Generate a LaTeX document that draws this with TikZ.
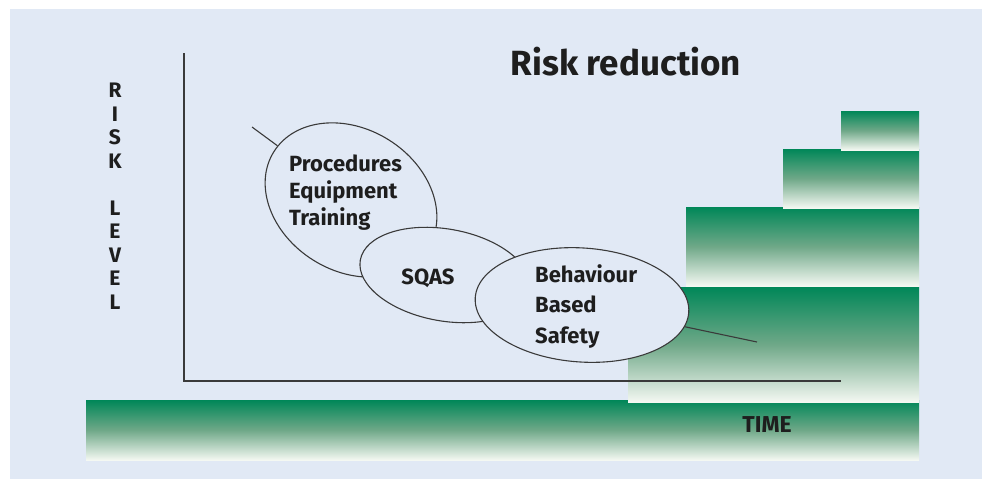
\documentclass[tikz,border=0pt]{standalone}
\usepackage{fontspec}
\setmainfont{Fira Sans}
\usetikzlibrary{shapes.geometric}
\definecolor{panel}{HTML}{E1E9F5}
\definecolor{gtop}{HTML}{008758}
\definecolor{gmid}{HTML}{6FA888}
\definecolor{gbot}{HTML}{F4F8F2}
\definecolor{ink}{HTML}{1E1E1E}
\definecolor{rule}{HTML}{3A3A3A}
\begin{document}
\begin{tikzpicture}[x=1pt,y=-1pt,
  band/.style={top color=gtop, bottom color=gbot, middle color=gmid},
  axisline/.style={draw=rule, line width=1.8pt},
  bubble/.style={ellipse, draw=rule, line width=1.1pt, fill=panel, inner sep=0pt},
  tail/.style={draw=rule, line width=1.1pt},
  lbl/.style={text=ink, inner sep=0pt, font=\bfseries\fontsize{22}{27}\selectfont},
  lblB/.style={text=ink, inner sep=0pt, font=\bfseries\fontsize{22}{30.5}\selectfont}]
\useasboundingbox (0,0) rectangle (982,479);
% background panel
\fill[panel] (10,9) rectangle (982,479);

% green bands: base strip and the rising steps
\shade[band] (86,400) rectangle (919,460);
\shade[band] (628,287) rectangle (919,402);
\shade[band] (686,207) rectangle (919,286);
\shade[band] (783,149) rectangle (919,208);
\shade[band] (841,111) rectangle (919,150);

% axes
\coordinate (ytop) at (184,53);
\coordinate (origin) at (184,381);
\coordinate (xend) at (841,381);
\draw[axisline] (ytop) -- (origin) -- (xend);

% risk-reduction bubbles
\node[bubble, minimum width=182, minimum height=142, rotate=-32] (proc) at (351,200) {};
\node[bubble, minimum width=172, minimum height=92, rotate=-10] (sqas) at (445,275) {};
\node[bubble, minimum width=214, minimum height=114, rotate=-4] (bbs) at (582,305) {};

% curve ends outside the bubbles
\coordinate (tailA) at (252,127);
\coordinate (tailB) at (757,342);
\draw[tail] (tailA) -- (proc);
\draw[tail] (bbs) -- (tailB);

% texts (base anchor of a multi-line node sits on its last line)
\node[lbl, anchor=base west, align=left] (tproc) at (289,225) {Procedures\\Equipment\\Training};
\node[lbl, anchor=base] (tsqas) at (428,284) {SQAS};
\node[lblB, anchor=base west, align=left] (tbbs) at (535,343) {Behaviour\\Based\\Safety};
\node[text=ink, inner sep=0pt, anchor=base, font=\bfseries\fontsize{35}{40}\selectfont] (title) at (626,75) {Risk reduction};
\node[text=ink, inner sep=0pt, anchor=base, font=\bfseries\fontsize{23}{26}\selectfont] (time) at (767,432) {TIME};
\node[text=ink, inner sep=0pt, anchor=base, align=center, font=\bfseries\fontsize{21}{23.5}\selectfont] (risk) at (115,309) {R\\I\\S\\K\\[23.5pt]L\\E\\V\\E\\L};
\end{tikzpicture}
\end{document}
